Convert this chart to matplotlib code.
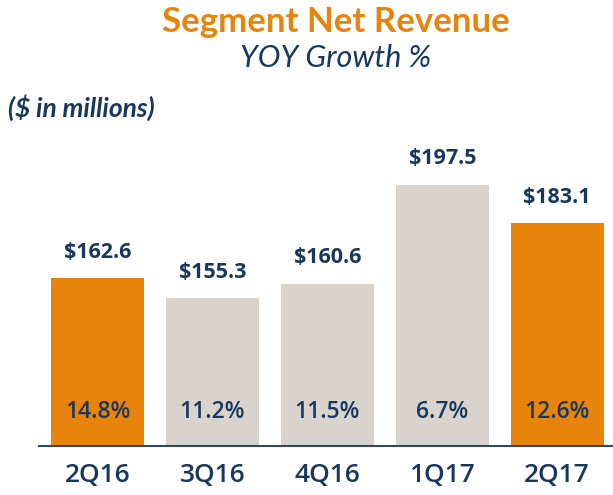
import matplotlib
matplotlib.use('Agg')
from matplotlib import pyplot as plt

# data
quarters = ['2Q16', '3Q16', '4Q16', '1Q17', '2Q17']
revenue = [162.6, 155.3, 160.6, 197.5, 183.1]
growth = ['14.8%', '11.2%', '11.5%', '6.7%', '12.6%']
highlight = [True, False, False, False, True]

ORANGE = '#E8830C'
GREY = '#D9D3CD'
NAVY = '#17375E'

plt.rcParams['font.family'] = ['Open Sans', 'DejaVu Sans']

fig = plt.figure(figsize=(6.13, 4.95), dpi=100)
ax = fig.add_axes([0.0636, 0.099, 0.936, 0.65])

colors = [ORANGE if h else GREY for h in highlight]
x = list(range(len(quarters)))
bars = ax.bar(x, revenue, width=0.81, color=colors, bottom=0)
ax.set_ylim(100, 220)
ax.set_xlim(-0.509, 4.483)

# value labels above bars, growth labels inside near the base
for xi, v, g in zip(x, revenue, growth):
    ax.annotate('$%.1f' % v, (xi, v), xytext=(0, 18.5), textcoords='offset points',
                ha='center', va='center', fontsize=15.5, fontweight='bold', color=NAVY)
    ax.annotate(g, (xi, 100), xytext=(0, 24.5), textcoords='offset points',
                ha='center', va='center', fontsize=16.5, fontweight='semibold', color=NAVY)

for s in ['top', 'right', 'left']:
    ax.spines[s].set_visible(False)
ax.spines['bottom'].set_color('#2E4A6B')
ax.spines['bottom'].set_linewidth(1.5)
ax.set_yticks([])
ax.set_xticks(x)
ax.set_xticklabels(quarters, fontsize=19, color=NAVY, fontweight='semibold')
ax.tick_params(axis='x', length=0, pad=12)

fig.text(0.548, 0.955, 'Segment Net Revenue', ha='center', va='center',
         fontsize=25, fontweight='bold', color=ORANGE, family=['Lato', 'DejaVu Sans'])
fig.text(0.548, 0.883, 'YOY Growth %', ha='center', va='center',
         fontsize=22, style='italic', color=NAVY, family=['Lato', 'DejaVu Sans'])
fig.text(0.013, 0.783, '($ in millions)', ha='left', va='center',
         fontsize=19, style='italic', fontweight='bold', color=NAVY, family=['Lato', 'DejaVu Sans'])

fig.savefig('out.png', dpi=100)
